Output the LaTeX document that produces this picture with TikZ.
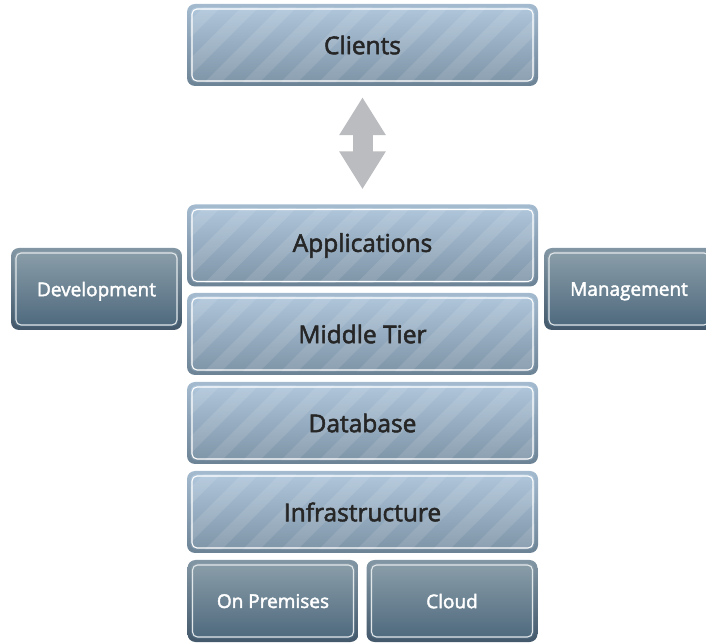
\documentclass[tikz,border=0pt]{standalone}
\usepackage{fontspec}
\setmainfont{Open Sans}
\newfontfamily\tierfont{Open Sans}[FakeBold=2.2]
\usetikzlibrary{calc,arrows.meta}
\definecolor{tiertop}{HTML}{B1C8DD}
\definecolor{tierbot}{HTML}{7C92A5}
\definecolor{rimtop}{HTML}{A4BBCF}
\definecolor{rimbot}{HTML}{6C8396}
\definecolor{sidetop}{HTML}{8DA0AB}
\definecolor{sidebot}{HTML}{4B667B}
\definecolor{siderimtop}{HTML}{8296A4}
\definecolor{siderimbot}{HTML}{43596B}
\definecolor{arrowgray}{HTML}{BBBCC0}
\definecolor{labelink}{HTML}{262626}
\tikzset{
  tier/.style={rounded corners=8pt, inner sep=0pt, minimum width=351pt, minimum height=82pt,
    top color=rimtop, bottom color=rimbot, text=labelink, font=\tierfont\fontsize{24.5}{28}\selectfont,
    path picture={
      \begin{scope}
        \clip[rounded corners=6pt] ([shift={(3.5pt,-3.5pt)}]path picture bounding box.north west) rectangle ([shift={(-3.5pt,3.5pt)}]path picture bounding box.south east);
        \shade[top color=tiertop, bottom color=tierbot] (path picture bounding box.south west) rectangle (path picture bounding box.north east);
        \foreach \s in {0,38,...,494}
          \fill[white, opacity=0.11] ([xshift={\s*1pt-100pt}]path picture bounding box.south west) -- ++(17pt,0pt) -- ++(100pt,100pt) -- ++(-17pt,0pt) -- cycle;
      \end{scope}
      \draw[white, line width=1.1pt, rounded corners=5pt] ([shift={(5pt,-5pt)}]path picture bounding box.north west) rectangle ([shift={(-5pt,5pt)}]path picture bounding box.south east);
    }},
  sidebox/.style={rounded corners=8pt, inner sep=0pt, minimum width=171pt, minimum height=82pt,
    top color=siderimtop, bottom color=siderimbot, text=white, text depth=0pt, font=\tierfont\fontsize{19}{22}\selectfont,
    path picture={
      \shade[top color=sidetop, bottom color=sidebot, rounded corners=6pt] ([shift={(3.5pt,-3.5pt)}]path picture bounding box.north west) rectangle ([shift={(-3.5pt,3.5pt)}]path picture bounding box.south east);
      \draw[white!75!sidetop, line width=1.1pt, rounded corners=5pt] ([shift={(5pt,-5pt)}]path picture bounding box.north west) rectangle ([shift={(-5pt,5pt)}]path picture bounding box.south east);
    }}
}

\begin{document}
\begin{tikzpicture}[x=1pt,y=1pt]
		%%%%% START %%%%%
		\useasboundingbox (0,0) rectangle (706,642);
		
		\node[tier] (clients) at (362.5,597) {Clients};
		
		\node[tier] (apps) at (362.5,396.5) {Applications};
		\node[tier] (middle) at (362.5,308) {Middle Tier};
		\node[tier] (database) at (362.5,219) {Database};
		\node[tier] (infra) at (362.5,130) {Infrastructure};
		
		\node[sidebox] (onprem) at (273,41) {On Premises};
		\node[sidebox] (cloud) at (452,41) {Cloud};
		
		\node[sidebox] (dev) at (96.5,353) {Development};
		\node[sidebox, minimum width=170pt] (mgmt) at (629,353) {Management};
		
		\draw[arrowgray, line width=20pt, {Triangle[width=44pt,length=38pt]}-{Triangle[width=44pt,length=38pt]}] ([yshift=-11pt]clients.south) -- ([yshift=15pt]apps.north);
		
		%%%%% END %%%%%
	\end{tikzpicture}
\end{document}
